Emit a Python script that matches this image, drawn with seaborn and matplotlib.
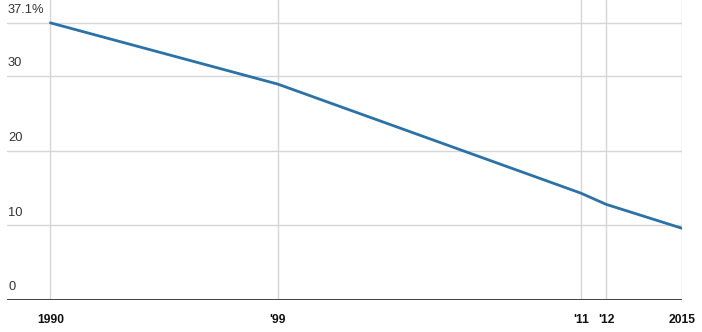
import matplotlib
matplotlib.use("Agg")
import matplotlib.pyplot as plt
import matplotlib.transforms as mtransforms
import seaborn as sns
import pandas as pd

years = [1990, 1999, 2011, 2012, 2015]
values = [37.1, 28.9, 14.3, 12.8, 9.6]
x_tick_labels = ["1990", "'99", "'11", "'12", "2015"]
y_ticks = [0, 10, 20, 30, 37.1]
y_tick_labels = ["0", "10", "20", "30", "37.1%"]

sns.set_theme(style="white")
plt.rcParams['font.family'] = ['Liberation Sans', 'DejaVu Sans']

df = pd.DataFrame({"year": years, "value": values})

fig = plt.figure(figsize=(7.02, 3.32), dpi=100)
ax = fig.add_axes([7/702, 32/332, 675/702, 300/332])

for y in years:
    ax.axvline(y, color="#d6d6d6", lw=1, zorder=1)
for t in y_ticks[1:]:
    ax.axhline(t, color="#d6d6d6", lw=1, zorder=1)
ax.axhline(0, color="#333333", lw=1.3, zorder=2)

sns.lineplot(data=df, x="year", y="value", ax=ax, color="#2b72a8", lw=2, zorder=3)

ax.set_xlim(1988.28, 2015.0)
ax.set_ylim(0, 40.16)
ax.set_xticks(years)
ax.set_xticklabels(x_tick_labels, fontweight="bold", fontsize=8.7, color="#111111")
ax.tick_params(axis="x", length=0, pad=10)
ax.set_yticks([])
ax.set_xlabel("")
ax.set_ylabel("")
for s in ax.spines.values():
    s.set_visible(False)

trans = mtransforms.blended_transform_factory(ax.transAxes, ax.transData)
for t, lab in zip(y_ticks, y_tick_labels):
    ax.text(0.0015, t + 0.9, lab, transform=trans, ha="left", va="bottom",
            fontsize=9.3, color="#333333")

fig.savefig("out.png", dpi=100)
